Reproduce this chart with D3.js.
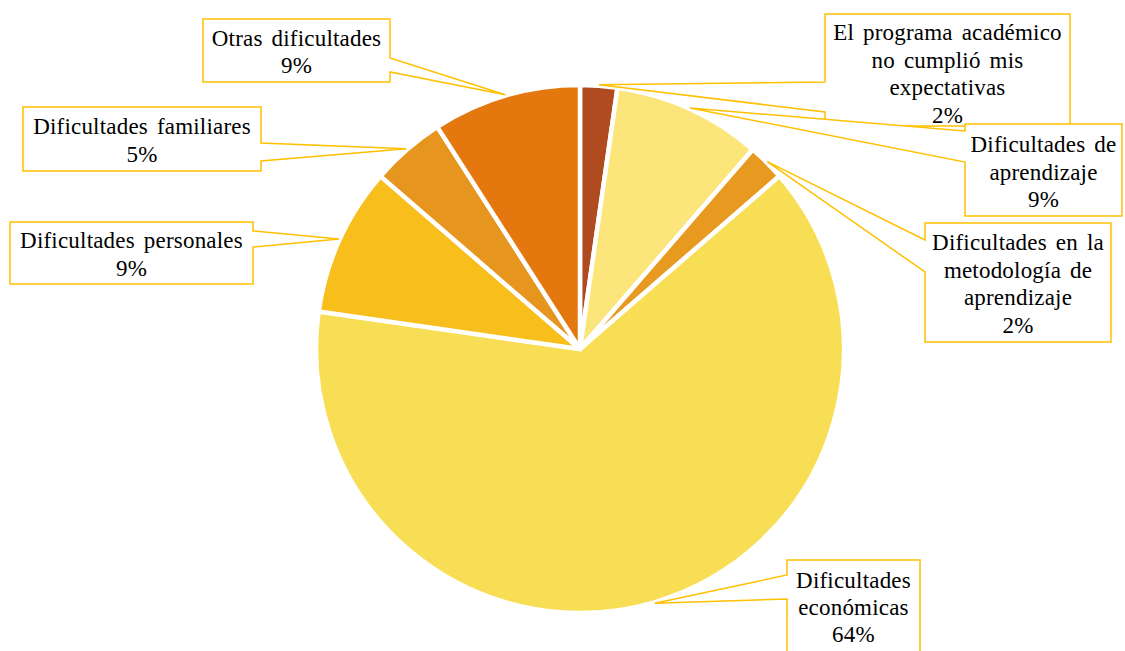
<!DOCTYPE html>
<html>
<head>
<meta charset="utf-8">
<script src="https://cdn.jsdelivr.net/npm/d3@7"></script>
<style>
  html, body { margin: 0; padding: 0; background: #ffffff; }
  svg { display: block; }
  text { font-family: "Liberation Serif", "Times New Roman", serif; font-size: 23px; fill: #000; }
</style>
</head>
<body>
<svg id="chart" width="1125" height="651"></svg>
<script>
// ---- data ----
const categories = [
  "El programa académico no cumplió mis expectativas",
  "Dificultades de aprendizaje",
  "Dificultades en la metodología de aprendizaje",
  "Dificultades económicas",
  "Dificultades personales",
  "Dificultades familiares",
  "Otras dificultades"
];
const values = [2.27, 9.09, 2.27, 63.64, 9.09, 4.55, 9.09];
const labelLines = [
  ["El programa académico", "no cumplió mis", "expectativas"],
  ["Dificultades de", "aprendizaje"],
  ["Dificultades en la", "metodología de", "aprendizaje"],
  ["Dificultades", "económicas"],
  ["Dificultades personales"],
  ["Dificultades familiares"],
  ["Otras dificultades"]
];
const colors = ["#B04B1F", "#FCE57A", "#E8991F", "#F8DE55", "#F7BE1C", "#E6961E", "#E5770F"];

// ---- layout (label callout boxes) ----
const boxes = [
  {b: [825, 14, 1070, 126], side: "left",  n: [82, 112],  y: 40,  step: 27.6},
  {b: [965, 124, 1122, 216], side: "left", n: [131, 162], y: 152, step: 27.5},
  {b: [925, 223, 1111, 342], side: "left", n: [240, 272], y: 250, step: 27.7},
  {b: [787, 560, 920, 665], side: "left",  n: [575, 599], y: 588, step: 27},
  {b: [10, 222, 253, 284], side: "right",  n: [231, 247], y: 248, step: 28},
  {b: [23, 107, 261, 171], side: "right",  n: [143, 161], y: 134, step: 28},
  {b: [203, 19, 390, 82], side: "right",   n: [58, 72],   y: 46,  step: 27}
];

const cx = 580, cy = 349, R = 264;
const svg = d3.select("#chart");
const total = d3.sum(values);
const fmt = d3.format(".0%");

const pie = d3.pie().sort(null).value(d => d)(values);
const arc = d3.arc().innerRadius(0).outerRadius(R);
const edge = d3.arc().innerRadius(R + 1).outerRadius(R + 1);

const g = svg.append("g").attr("transform", `translate(${cx},${cy})`);
g.selectAll("path.slice").data(pie).join("path")
  .attr("class", "slice")
  .attr("d", arc)
  .attr("fill", (d, i) => colors[i])
  .attr("stroke", "#ffffff")
  .attr("stroke-width", 4.5)
  .attr("stroke-linejoin", "round");

// callouts
boxes.forEach((bx, i) => {
  const [x0, y0, x1, y1] = bx.b;
  const c = edge.centroid(pie[i]);
  const tx = cx + c[0], ty = cy + c[1];
  let p;
  if (bx.side === "left") {
    p = [[x0, y0], [x1, y0], [x1, y1], [x0, y1], [x0, bx.n[1]], [tx, ty], [x0, bx.n[0]]];
  } else {
    p = [[x0, y0], [x1, y0], [x1, bx.n[0]], [tx, ty], [x1, bx.n[1]], [x1, y1], [x0, y1]];
  }
  svg.append("path")
    .attr("d", "M" + p.map(q => q.join(",")).join("L") + "Z")
    .attr("fill", "#ffffff")
    .attr("stroke", "#FFC000")
    .attr("stroke-width", 1.5)
    .attr("stroke-linejoin", "miter");
  const lines = labelLines[i].concat([fmt(values[i] / total)]);
  const t = svg.append("text")
    .attr("text-anchor", "middle")
    .attr("letter-spacing", "0.2px")
    .attr("word-spacing", "3px");
  lines.forEach((ln, k) => {
    t.append("tspan")
      .attr("x", (x0 + x1) / 2)
      .attr("y", bx.y + k * bx.step)
      .text(ln);
  });
});
</script>
</body>
</html>
